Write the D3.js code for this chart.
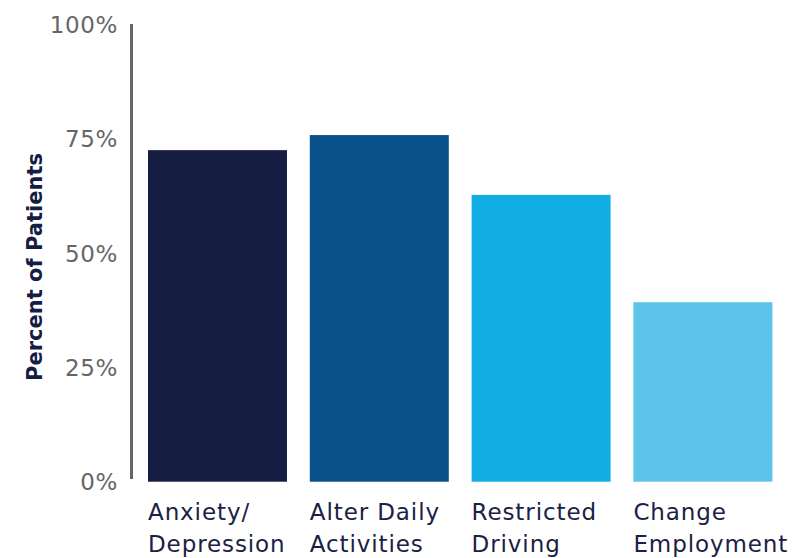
<!DOCTYPE html>
<html>
<head>
<meta charset="utf-8">
<script src="https://cdn.jsdelivr.net/npm/d3@7"></script>
<style>
  body { margin: 0; background: #fff; }
  svg text { font-family: "DejaVu Sans", "Noto Sans", sans-serif; }
</style>
</head>
<body>
<svg id="chart" width="792" height="558"></svg>
<script>
// data
var categories = [["Anxiety/", "Depression"], ["Alter Daily", "Activities"], ["Restricted", "Driving"], ["Change", "Employment"]];
var values = [72.6, 75.9, 62.8, 39.3];
var colors = ["#151d43", "#08518b", "#10aee3", "#5bc4e8"];
var tickValues = [0, 25, 50, 75, 100];

var svg = d3.select("#chart");

var y = d3.scaleLinear().domain([0, 100]).range([481.7, 25]);
var x = d3.scaleBand()
	.domain(d3.range(values.length))
	.range([136, 784.4])
	.paddingInner(0.141)
	.paddingOuter(0.0742);

// axis line
svg.append("line")
	.attr("x1", 131.5).attr("x2", 131.5)
	.attr("y1", 24).attr("y2", 479)
	.attr("stroke", "#666")
	.attr("stroke-width", 3);

// tick labels
svg.selectAll("text.tick")
	.data(tickValues)
	.enter()
	.append("text")
	.attr("class", "tick")
	.attr("x", 118)
	.attr("y", function(d){ return y(d); })
	.attr("dy", "0.36em")
	.attr("text-anchor", "end")
	.attr("fill", "#666")
	.style("font-size", "23px")
	.style("letter-spacing", "0.6px")
	.text(function(d){ return d + "%"; });

// bars
svg.selectAll("rect.bar")
	.data(values)
	.enter()
	.append("rect")
	.attr("class", "bar")
	.attr("x", function(d, i){ return x(i); })
	.attr("width", x.bandwidth())
	.attr("y", function(d){ return y(d); })
	.attr("height", function(d){ return y(0) - y(d); })
	.attr("fill", function(d, i){ return colors[i]; });

// category labels, two lines each
var labels = svg.selectAll("text.cat")
	.data(categories)
	.enter()
	.append("text")
	.attr("class", "cat")
	.attr("fill", "#1a2145")
	.style("font-size", "23px")
	.style("letter-spacing", "0.9px");

labels.selectAll("tspan")
	.data(function(d, i){ return d.map(function(s){ return {s: s, i: i}; }); })
	.enter()
	.append("tspan")
	.attr("x", function(d){ return x(d.i); })
	.attr("y", function(d, j){ return 519.5 + j * 32.5; })
	.text(function(d){ return d.s; });

// y title
svg.append("text")
	.attr("transform", "translate(42," + 267 + ") rotate(-90)")
	.attr("text-anchor", "middle")
	.attr("fill", "#151d43")
	.style("font-size", "21px")
	.style("font-weight", "bold")
	.text("Percent of Patients");
</script>
</body>
</html>
